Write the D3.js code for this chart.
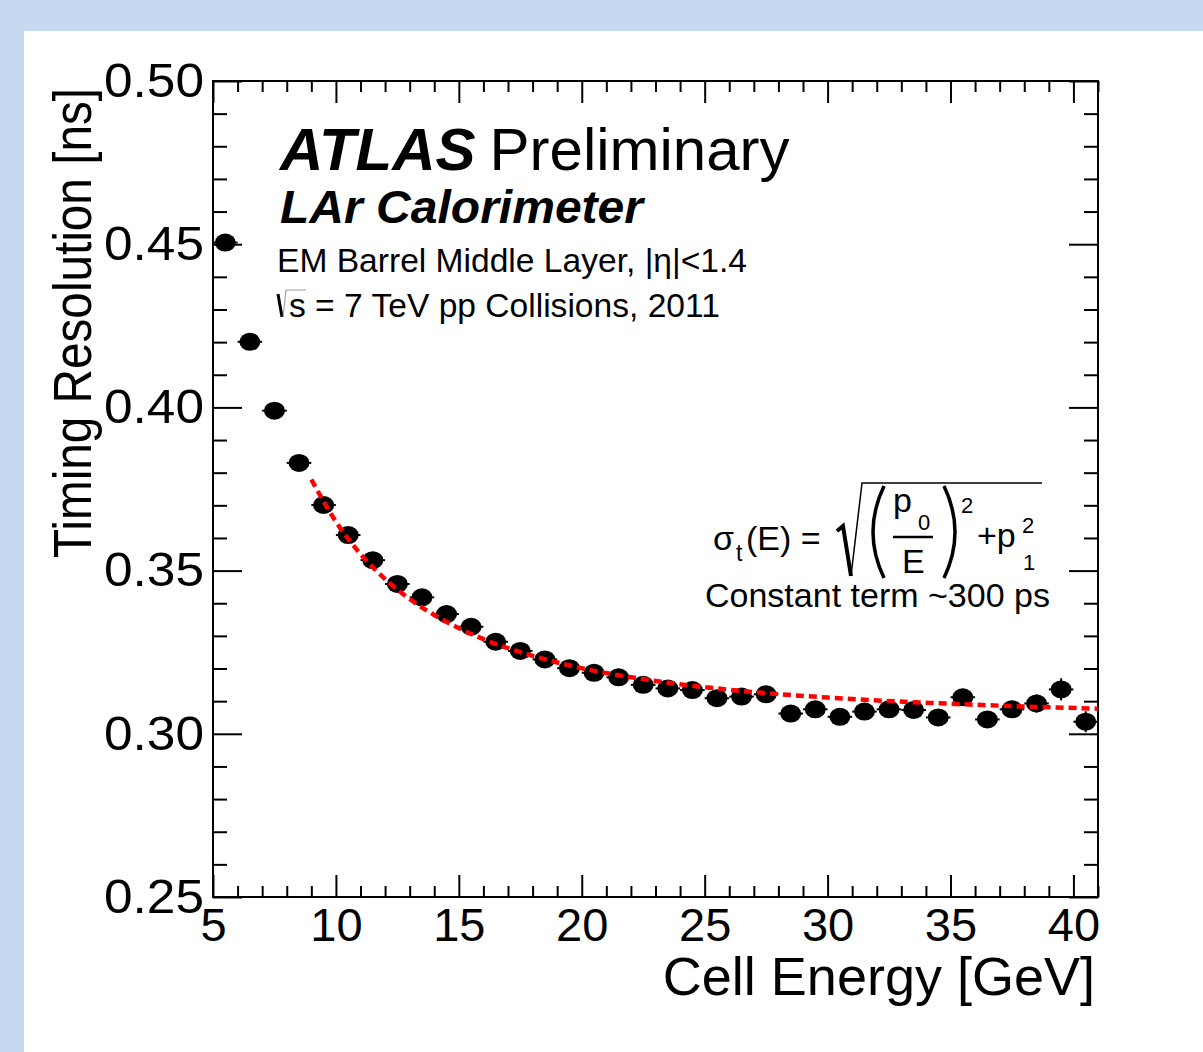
<!DOCTYPE html>
<html>
<head>
<meta charset="utf-8">
<script src="https://cdn.jsdelivr.net/npm/d3@7"></script>
<style>
  body { margin: 0; background: #c5d9f1; }
  svg { display: block; }
  text { font-family: "Liberation Sans", Arial, Helvetica, sans-serif; fill: #000; }
</style>
</head>
<body>
<div id="chart"></div>
<script>
// bin centres [GeV] and measured timing resolution [ns]
const energy = [5.5, 6.5, 7.5, 8.5, 9.5, 10.5, 11.5, 12.5, 13.5, 14.5, 15.5, 16.5,
                17.5, 18.5, 19.5, 20.5, 21.5, 22.5, 23.5, 24.5, 25.5, 26.5, 27.5, 28.5,
                29.5, 30.5, 31.5, 32.5, 33.5, 34.5, 35.5, 36.5, 37.5, 38.5, 39.5, 40.5];
const sigma = [0.4505, 0.4201, 0.3990, 0.3830, 0.3701, 0.3609, 0.3532, 0.3459, 0.3418, 0.3367, 0.3328, 0.3282,
               0.3254, 0.3228, 0.3201, 0.3187, 0.3173, 0.3150, 0.3139, 0.3134, 0.3109, 0.3114, 0.3121, 0.3062,
               0.3075, 0.3052, 0.3068, 0.3075, 0.3073, 0.3050, 0.3112, 0.3044, 0.3075, 0.3093, 0.3136, 0.3037];
const sigmaErr = [0.0010, 0.0010, 0.0010, 0.0010, 0.0010, 0.0010, 0.0010, 0.0010, 0.0012, 0.0012, 0.0012, 0.0012,
                  0.0013, 0.0013, 0.0014, 0.0014, 0.0015, 0.0015, 0.0016, 0.0016, 0.0017, 0.0017, 0.0018, 0.0019,
                  0.0020, 0.0020, 0.0021, 0.0022, 0.0022, 0.0023, 0.0024, 0.0025, 0.0026, 0.0028, 0.0034, 0.0032];
const binHalf = 0.5;

// fit curve (red dotted)
const fitE = [9, 10, 11, 12, 13, 14, 16, 18, 20, 23, 26, 30, 35, 41];
const fitSigma = [0.3779, 0.3650, 0.3551, 0.3474, 0.3413, 0.3364, 0.3290, 0.3239, 0.3201, 0.3162, 0.3135, 0.3111, 0.3092, 0.3077];

const xMajor = [5, 10, 15, 20, 25, 30, 35, 40];
const yMajor = [0.25, 0.30, 0.35, 0.40, 0.45, 0.50];

const W = 1203, H = 1052;
const padL = 213, padR = 1098, padT = 81, padB = 897;

const svg = d3.select("#chart").append("svg").attr("width", W).attr("height", H);

// light blue border and white pad
svg.append("rect").attr("width", W).attr("height", H).attr("fill", "#c5d9f1");
svg.append("rect").attr("x", 24).attr("y", 31).attr("width", W - 24).attr("height", H - 31).attr("fill", "#fff");

const x = d3.scaleLinear().domain([5, 41]).range([padL, padR]);
const y = d3.scaleLinear().domain([0.25, 0.50]).range([padB, padT]);

const xMinor = d3.range(5, 42, 1).filter(v => v % 5 !== 0);
const yMinor = d3.range(25, 51, 1).map(v => v / 100).filter(v => Math.round(v * 100) % 5 !== 0);

function styleAxis(g) {
    g.select(".domain").remove();
    g.selectAll("line").attr("stroke", "#000").attr("stroke-width", 2);
    g.selectAll("text").style("font-size", "47px").attr("fill", "#000")
     .style("font-family", "Liberation Sans, Arial, sans-serif");
}

// bottom
svg.append("g").attr("transform", `translate(0,${padB})`)
   .call(d3.axisBottom(x).tickValues(xMajor).tickSize(-22).tickPadding(11).tickFormat(d3.format("d")))
   .call(styleAxis);
svg.append("g").attr("transform", `translate(0,${padB})`)
   .call(d3.axisBottom(x).tickValues(xMinor).tickSize(-11).tickFormat(""))
   .call(styleAxis);
// top
svg.append("g").attr("transform", `translate(0,${padT})`)
   .call(d3.axisTop(x).tickValues(xMajor).tickSize(-22).tickFormat(""))
   .call(styleAxis);
svg.append("g").attr("transform", `translate(0,${padT})`)
   .call(d3.axisTop(x).tickValues(xMinor).tickSize(-11).tickFormat(""))
   .call(styleAxis);
// left
svg.append("g").attr("transform", `translate(${padL},0)`)
   .call(d3.axisLeft(y).tickValues(yMajor).tickSize(-29).tickPadding(9).tickFormat(d3.format(".2f")))
   .call(styleAxis)
   .call(g => g.selectAll("text").style("font-size", "48px")
                .attr("textLength", 100).attr("lengthAdjust", "spacingAndGlyphs"));
svg.append("g").attr("transform", `translate(${padL},0)`)
   .call(d3.axisLeft(y).tickValues(yMinor).tickSize(-14).tickFormat(""))
   .call(styleAxis);
// right
svg.append("g").attr("transform", `translate(${padR},0)`)
   .call(d3.axisRight(y).tickValues(yMajor).tickSize(-29).tickFormat(""))
   .call(styleAxis);
svg.append("g").attr("transform", `translate(${padR},0)`)
   .call(d3.axisRight(y).tickValues(yMinor).tickSize(-14).tickFormat(""))
   .call(styleAxis);

// frame
svg.append("rect")
   .attr("x", padL).attr("y", padT)
   .attr("width", padR - padL).attr("height", padB - padT)
   .attr("fill", "none").attr("stroke", "#000").attr("stroke-width", 2);

// axis titles
svg.append("text")
   .attr("x", 1095).attr("y", 995)
   .attr("text-anchor", "end")
   .style("font-size", "54px")
   .text("Cell Energy [GeV]");

svg.append("text")
   .attr("transform", "translate(91,88) rotate(-90)")
   .attr("text-anchor", "end")
   .attr("textLength", 470).attr("lengthAdjust", "spacingAndGlyphs")
   .style("font-size", "54px")
   .text("Timing Resolution [ns]");

// data points
const pts = energy.map((e, i) => ({e: e, s: sigma[i], err: sigmaErr[i]}));
const gp = svg.append("g");
gp.selectAll("line.hx").data(pts).enter().append("line")
  .attr("x1", d => x(d.e - binHalf)).attr("x2", d => x(d.e + binHalf))
  .attr("y1", d => y(d.s)).attr("y2", d => y(d.s))
  .attr("stroke", "#000").attr("stroke-width", 2);
gp.selectAll("line.vy").data(pts).enter().append("line")
  .attr("x1", d => x(d.e)).attr("x2", d => x(d.e))
  .attr("y1", d => y(d.s - d.err)).attr("y2", d => y(d.s + d.err))
  .attr("stroke", "#000").attr("stroke-width", 2);
gp.selectAll("ellipse").data(pts).enter().append("ellipse")
  .attr("cx", d => x(d.e)).attr("cy", d => y(d.s))
  .attr("rx", 10.5).attr("ry", 9)
  .attr("fill", "#000");

// fit
const fitPts = fitE.map((e, i) => [e, fitSigma[i]]);
svg.append("path")
   .datum(fitPts)
   .attr("d", d3.line().x(d => x(d[0])).y(d => y(d[1])).curve(d3.curveMonotoneX))
   .attr("fill", "none")
   .attr("stroke", "#ff0000")
   .attr("stroke-width", 4.5)
   .attr("stroke-dasharray", "8,5");

// labels
const ann = svg.append("g");
const atlas = ann.append("text").attr("x", 280).attr("y", 170).style("font-size", "60px");
atlas.append("tspan").style("font-weight", "bold").style("font-style", "italic").text("ATLAS");
atlas.append("tspan").attr("dx", 14).text("Preliminary");

ann.append("text").attr("x", 280).attr("y", 223)
   .style("font-size", "46px").style("font-weight", "bold").style("font-style", "italic")
   .attr("textLength", 363).attr("lengthAdjust", "spacingAndGlyphs")
   .text("LAr Calorimeter");

ann.append("text").attr("x", 277).attr("y", 272).style("font-size", "33.6px")
   .text("EM Barrel Middle Layer, |η|<1.4");

// sqrt(s) line
ann.append("path").attr("d", "M278,294 L282,317").attr("stroke", "#000").attr("stroke-width", 3).attr("fill", "none");
ann.append("path").attr("d", "M283,317 L286,290 L306,290").attr("stroke", "#999").attr("stroke-width", 1).attr("fill", "none");
ann.append("text").attr("x", 289).attr("y", 317).style("font-size", "33.6px")
   .text("s = 7 TeV pp Collisions, 2011");

// formula
ann.append("text").attr("x", 713).attr("y", 550).style("font-size", "34px").text("σ");
ann.append("text").attr("x", 736).attr("y", 561).style("font-size", "23px").text("t");
ann.append("text").attr("x", 746).attr("y", 550).style("font-size", "34px").text("(E) =");
ann.append("path").attr("d", "M837,531 L843,526 L851,576").attr("stroke", "#000").attr("stroke-width", 4).attr("fill", "none");
ann.append("path").attr("d", "M851,576 L862,483 L1042,483").attr("stroke", "#000").attr("stroke-width", 1.5).attr("fill", "none");
ann.append("path").attr("d", "M884,486 Q862,532 884,578").attr("stroke", "#000").attr("stroke-width", 3.5).attr("fill", "none");
ann.append("path").attr("d", "M944,486 Q966,532 944,578").attr("stroke", "#000").attr("stroke-width", 3.5).attr("fill", "none");
ann.append("text").attr("x", 893).attr("y", 512).style("font-size", "34px").text("p");
ann.append("text").attr("x", 918).attr("y", 530).style("font-size", "22px").text("0");
ann.append("line").attr("x1", 893).attr("x2", 933).attr("y1", 537).attr("y2", 537).attr("stroke", "#000").attr("stroke-width", 2.5);
ann.append("text").attr("x", 902).attr("y", 573).style("font-size", "34px").text("E");
ann.append("text").attr("x", 961).attr("y", 513).style("font-size", "22px").text("2");
ann.append("text").attr("x", 977).attr("y", 547).style("font-size", "34px").text("+p");
ann.append("text").attr("x", 1022).attr("y", 533).style("font-size", "22px").text("2");
ann.append("text").attr("x", 1023).attr("y", 570).style("font-size", "22px").text("1");

ann.append("text").attr("x", 705).attr("y", 607).style("font-size", "34px")
   .text("Constant term ~300 ps");
</script>
</body>
</html>
